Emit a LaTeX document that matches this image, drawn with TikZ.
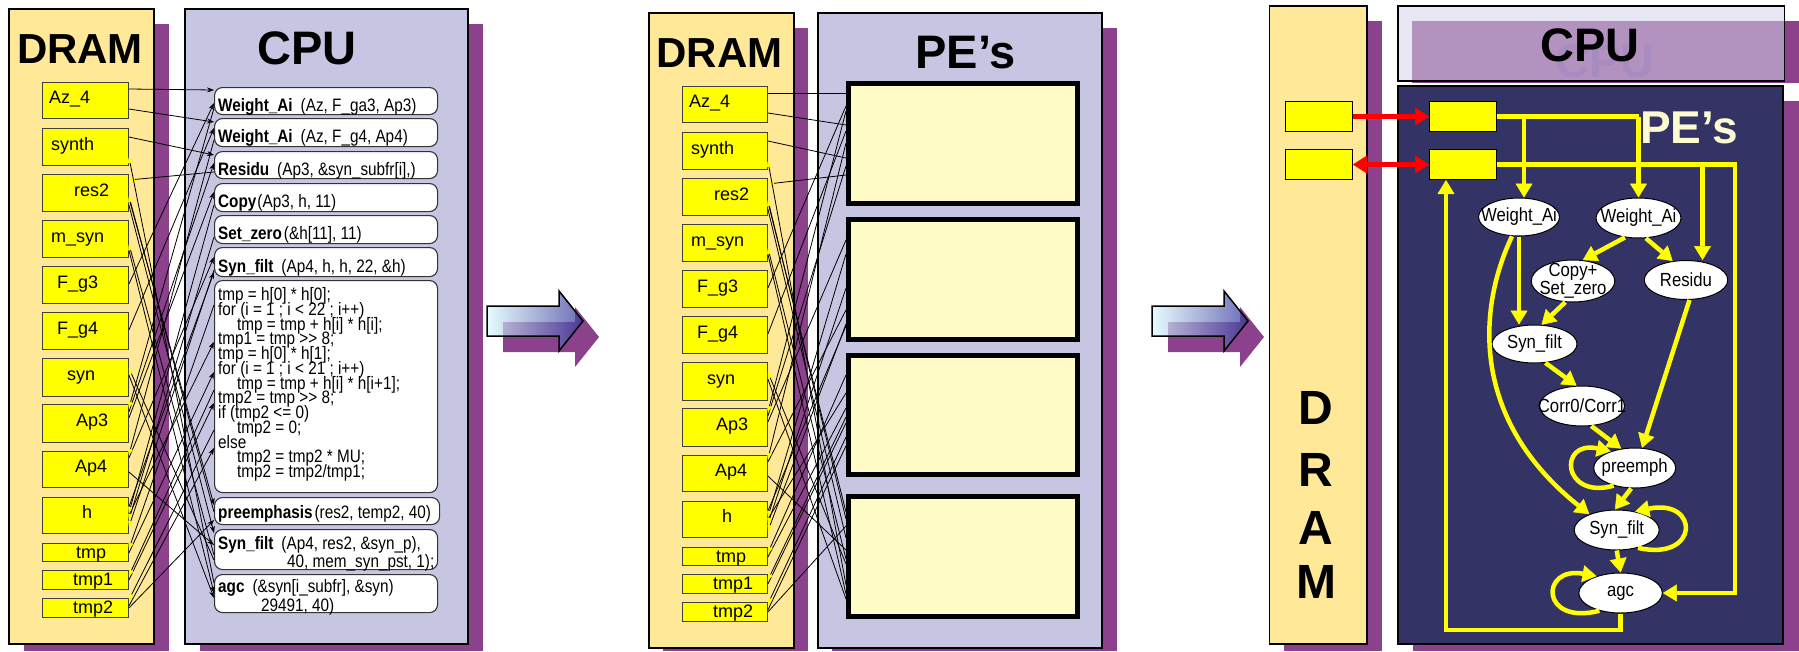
\documentclass[tikz,border=0pt]{standalone}
\usepackage{fontspec}
\setmainfont{Liberation Sans}
\newfontfamily\narrowsans[FakeStretch=0.85]{Liberation Sans}
\newfontfamily\ellsans[FakeStretch=0.88]{Liberation Sans}
\usetikzlibrary{arrows.meta,shapes.geometric}

\definecolor{dramfill}{HTML}{FFE897}
\definecolor{cpufill}{HTML}{C6C6E2}
\definecolor{dropshade}{HTML}{8B418B}
\definecolor{cellyellow}{HTML}{FFFF00}
\definecolor{pefill}{HTML}{FFFCC8}
\definecolor{penavy}{HTML}{333366}
\definecolor{creamtext}{HTML}{FFFBD0}
\definecolor{cpulight}{HTML}{D5D5EA}
\definecolor{ghostcpu}{HTML}{A88BC0}
\definecolor{arrowlight}{HTML}{DDFCFF}
\definecolor{arrowdark}{HTML}{35359A}

\tikzset{
  panel/.style={draw=black, line width=1.6pt},
  dropbox/.style={fill=dropshade},
  cell/.style={draw=black!75, fill=cellyellow, line width=0.9pt, inner sep=0pt,
    minimum width=86pt, anchor=north west},
  celltext/.style={inner sep=0pt, anchor=base west, font=\fontsize{18}{18}\selectfont},
  callbox/.style={draw=black!80, fill=white, line width=1.1pt, rounded corners=8pt,
    inner sep=0pt, anchor=north west},
  calltext/.style={inner sep=0pt, anchor=base west, font=\narrowsans\fontsize{18}{18}\selectfont},
  pebox/.style={draw=black, fill=pefill, line width=5pt, inner sep=0pt, minimum width=229pt},
  heading/.style={inner sep=0pt, anchor=base, font=\bfseries\fontsize{42}{42}\selectfont},
  bighead/.style={inner sep=0pt, anchor=base, font=\bfseries\fontsize{47}{47}\selectfont},
  fw/.style={line width=0.8pt, -{Stealth[length=7pt,width=5pt,line width=0.4pt]}},
  bw/.style={line width=0.8pt, -{Triangle[length=6pt,width=5pt,line width=0.4pt,color=cellyellow]}},
  plainlink/.style={line width=0.8pt},
  yl/.style={draw=cellyellow, line width=4.5pt},
  yarrow/.style={yl, -{Triangle[length=14pt,width=17pt,line width=0.5pt]}},
  redlink/.style={draw=red, line width=5pt},
  ell/.style={ellipse, draw=black, fill=white, line width=1pt, inner sep=0pt},
  elltext/.style={inner sep=0pt, align=center, font=\ellsans\fontsize{19}{15}\selectfont},
  smallcell/.style={draw=black, fill=cellyellow, line width=1pt, anchor=north west,
    minimum width=67pt, minimum height=30pt, inner sep=0pt},
  tallletter/.style={inner sep=0pt, anchor=base, font=\bfseries\fontsize{48}{48}\selectfont},
}

\newcommand\codeline[3]{\node[calltext] (k#1) at ({218+#2},{300.5+14.75*#1}) {#3};}

\begin{document}
\begin{tikzpicture}[x=1pt,y=-1pt]
\useasboundingbox (0,0) rectangle (1799,651);
\fill[white] (0,0) rectangle (1799,651);

% ---------------- left: DRAM and CPU ----------------
\fill[dropbox] (24,24) rectangle (169,651);
\fill[dropbox] (200,24) rectangle (483,651);
\node[panel, fill=dramfill, anchor=north west, minimum width=145pt, minimum height=635pt, inner sep=0pt] (ldram) at (8,8) {};
\node[panel, fill=cpufill, anchor=north west, minimum width=283pt, minimum height=635pt, inner sep=0pt] (lcpu) at (184,8) {};
\node[heading] (ldramt) at (80,63) {DRAM};
\node[bighead] (lcput) at (307,64) {CPU};

% DRAM cells
\foreach \t/\h/\lab/\off/\bl [count=\i] in {82/36/Az\_4/7/21.5, 128/37/synth/9/22, 174/37/res2/32/22,
    220/37/m\_syn/9/22, 266/37/F\_g3/15/22, 312/37/F\_g4/15/22, 358/38/syn/25/22, 404/38/Ap3/34/22,
    451/36/Ap4/33/21.5, 497/36/h/40/21.5, 543/18/tmp/34/15.5, 570/19/tmp1/31/15.5, 598/19/tmp2/31/15.5} {
  \node[cell, minimum height=\h pt] (ld\i) at (42,\t) {};
  \node[celltext] (ldl\i) at ({42+\off},{\t+\bl}) {\lab};
}

% CPU call boxes
\foreach \t/\h/\w [count=\i] in {87/27/223, 118/28/223, 151/27/223, 183/28/223, 215/28/223,
    247/29/223, 280/212/223, 497/27/225, 529/40/223, 574/38/223} {
  \node[callbox, minimum width=\w pt, minimum height=\h pt] (c\i) at (214,\t) {};
}
\node[calltext] (ct1) at (218,111) {\textbf{Weight\_Ai}\hspace{8pt}(Az, F\_ga3, Ap3)};
\node[calltext] (ct2) at (218,142) {\textbf{Weight\_Ai}\hspace{8pt}(Az, F\_g4, Ap4)};
\node[calltext] (ct3) at (218,175) {\textbf{Residu}\hspace{8pt}(Ap3, \&syn\_subfr[i],)};
\node[calltext] (ct4) at (218,207) {\textbf{Copy}\hspace{1pt}(Ap3, h, 11)};
\node[calltext] (ct5) at (218,239) {\textbf{Set\_zero}\hspace{2pt}(\&h[11], 11)};
\node[calltext] (ct6) at (218,272) {\textbf{Syn\_filt}\hspace{8pt}(Ap4, h, h, 22, \&h)};
\codeline{0}{0}{tmp = h[0] * h[0];}
\codeline{1}{0}{for (i = 1 ; i < 22 ; i++)}
\codeline{2}{19}{tmp = tmp + h[i] * h[i];}
\codeline{3}{0}{tmp1 = tmp >> 8;}
\codeline{4}{0}{tmp = h[0] * h[1];}
\codeline{5}{0}{for (i = 1 ; i < 21 ; i++)}
\codeline{6}{19}{tmp = tmp + h[i] * h[i+1];}
\codeline{7}{0}{tmp2 = tmp >> 8;}
\codeline{8}{0}{if (tmp2 <= 0)}
\codeline{9}{19}{tmp2 = 0;}
\codeline{10}{0}{else}
\codeline{11}{19}{tmp2 = tmp2 * MU;}
\codeline{12}{19}{tmp2 = tmp2/tmp1;}
\node[calltext] (ct8) at (218,518) {\textbf{preemphasis}\hspace{2pt}(res2, temp2, 40)};
\node[calltext] (ct9) at (218,549) {\textbf{Syn\_filt}\hspace{8pt}(Ap4, res2, \&syn\_p),};
\node[calltext] (ct9b) at (287,567) {40, mem\_syn\_pst, 1);};
\node[calltext] (ct10) at (218,592) {\textbf{agc}\hspace{8pt}(\&syn[i\_subfr], \&syn)};
\node[calltext] (ct10b) at (261,611) {29491, 40)};

% data flow DRAM -> CPU
\foreach \s/\sy/\d/\dy in {1/89/1/90, 1/109/2/122, 2/137/3/155, 5/284/1/103, 6/330/2/128,
    8/412/3/163, 8/418/4/192, 9/458/6/257, 9/472/9/545, 10/507/6/272, 10/515/7/342,
    11/553/7/372, 12/580/7/403, 13/606/7/448, 13/608/8/520, 3/198/8/505, 3/205/9/533,
    7/375/10/598, 4/250/10/593} {
  \draw[fw] (ld\s.east |- 0,\sy) -- (c\d.west |- 0,\dy);
}
% results CPU -> DRAM
\foreach \d/\dy/\s/\sy in {3/172/3/180, 10/583/2/157, 8/512/3/196, 9/555/4/244, 9/560/7/368,
    1/108/8/408, 2/140/9/455, 4/205/10/513, 5/237/10/520, 6/270/10/527, 7/305/11/549,
    7/390/12/576, 7/430/13/600} {
  \draw[bw] (c\d.west |- 0,\dy) -- (ld\s.east |- 0,\sy);
}

% ---------------- transition arrows ----------------
\foreach \ax in {487, 1152} {
  \fill[dropbox] ({\ax+16},322) -- ++(72,0) -- ++(0,-15) -- ++(24,30) -- ++(-24,30)
    -- ++(0,-15) -- ++(-72,0) -- cycle;
  \draw[line width=1.5pt, left color=arrowlight, right color=arrowdark, fill opacity=0.72]
    (\ax,306) -- ++(72,0) -- ++(0,-15) -- ++(24,30) -- ++(-24,30) -- ++(0,-15) -- ++(-72,0) -- cycle;
}

% ---------------- middle: DRAM and PE's ----------------
\fill[dropbox] (663,28) rectangle (808,651);
\fill[dropbox] (832,28) rectangle (1117,651);
\node[panel, fill=dramfill, anchor=north west, minimum width=145pt, minimum height=635pt, inner sep=0pt] (mdram) at (648,12) {};
\node[panel, fill=cpufill, anchor=north west, minimum width=284pt, minimum height=635pt, inner sep=0pt] (mpe) at (817,12) {};
\node[heading] (mdramt) at (719.5,67) {DRAM};
\node[bighead] (mpet) at (965.5,68) {PE’s};

\begin{scope}[shift={(640,4)}]
\foreach \t/\h/\lab/\off/\bl [count=\i] in {82/36/Az\_4/7/21.5, 128/37/synth/9/22, 174/37/res2/32/22,
    220/37/m\_syn/9/22, 266/37/F\_g3/15/22, 312/37/F\_g4/15/22, 358/38/syn/25/22, 404/38/Ap3/34/22,
    451/36/Ap4/33/21.5, 497/36/h/40/21.5, 543/18/tmp/34/15.5, 570/19/tmp1/31/15.5, 598/19/tmp2/31/15.5} {
  \node[cell, minimum width=85pt, minimum height=\h pt] (md\i) at (42,\t) {};
  \node[celltext] (mdl\i) at ({42+\off},{\t+\bl}) {\lab};
}
\end{scope}

\node[pebox, minimum height=120pt] (p1) at (963,143.5) {};
\node[pebox, minimum height=120pt] (p2) at (963,279.5) {};
\node[pebox, minimum height=119pt] (p3) at (963,415) {};
\node[pebox, minimum height=120pt] (p4) at (963,556.5) {};

\foreach \s/\sy/\d/\dy in {1/93/1/93, 1/113/1/125, 2/141/1/158, 5/288/1/106, 6/334/1/131,
    8/416/1/166, 8/422/2/240, 9/462/2/310, 9/476/4/550, 10/511/2/326, 10/519/3/393,
    11/557/3/408, 12/584/3/423, 13/610/3/446, 13/612/4/526, 3/202/4/512, 3/209/4/538,
    7/379/4/599, 4/254/4/594} {
  \draw[plainlink] (md\s.east |- 0,\sy) -- (p\d.west |- 0,\dy);
}
\foreach \d/\dy/\s/\sy in {1/175/3/184, 4/585/2/161, 4/519/3/200, 4/559/4/248, 4/564/7/372,
    1/111/8/412, 1/143/9/459, 2/254/10/517, 2/288/10/524, 2/324/10/531, 3/375/11/553,
    3/417/12/580, 3/437/13/604} {
  \draw[bw] (p\d.west |- 0,\dy) -- (md\s.east |- 0,\sy);
}

% ---------------- right: DRAM, CPU and PE's ----------------
\fill[dropbox] (1284,21) rectangle (1382,651);
\node[panel, fill=dramfill, anchor=north west, minimum width=97.5pt, minimum height=638pt, inner sep=0pt] (rdram) at (1268.5,5) {};
\node[tallletter] (rd1) at (1316,424) {D};
\node[tallletter] (rd2) at (1316,486) {R};
\node[tallletter] (rd3) at (1316,544) {A};
\node[tallletter] (rd4) at (1316,598) {M};

\fill[dropbox] (1412,21) rectangle (1799,83);
\fill[cpulight, fill opacity=0.55] (1397,5) rectangle (1783.5,80);
\node[draw=black, line width=1.6pt, anchor=north west, minimum width=386.5pt, minimum height=75pt, inner sep=0pt] (rcpu) at (1397,5) {};
\node[inner sep=0pt, anchor=base, font=\bfseries\fontsize{47}{47}\selectfont] (rcput) at (1590,61)
  {\rlap{\hspace{15pt}\raisebox{-16pt}[0pt][0pt]{\textcolor{ghostcpu}{CPU}}}CPU};

\fill[dropbox] (1413,101) rectangle (1799,651);
\node[draw=black, fill=penavy, line width=1.6pt, anchor=north west, minimum width=385pt, minimum height=558pt, inner sep=0pt] (rpe) at (1397,85) {};
\node[inner sep=0pt, anchor=base west, text=creamtext, font=\bfseries\fontsize{46}{46}\selectfont] (rpet) at (1640,143) {PE’s};

\node[smallcell] (r1) at (1285,101) {};
\node[smallcell] (r2) at (1285,149) {};
\node[smallcell] (r3) at (1429,101) {};
\node[smallcell] (r4) at (1429,149) {};

\draw[redlink, -{Triangle[length=14pt,width=18pt,line width=0.5pt]}] (r1.east) -- (r3.west);
\draw[redlink, {Triangle[length=14pt,width=18pt,line width=0.5pt]}-{Triangle[length=14pt,width=18pt,line width=0.5pt]}] (r2.east) -- (r4.west);

% task graph
\node[ell, minimum width=81pt, minimum height=38pt] (e1) at (1519,217) {};
\node[ell, minimum width=85pt, minimum height=40pt] (e2) at (1638.5,218) {};
\node[ell, minimum width=83.5pt, minimum height=42pt] (e3) at (1573,281) {};
\node[ell, minimum width=83.5pt, minimum height=39pt] (e4) at (1686,280) {};
\node[ell, minimum width=85pt, minimum height=38pt] (e5) at (1534.5,344) {};
\node[ell, minimum width=85pt, minimum height=40pt] (e6) at (1582,406) {};
\node[ell, minimum width=82pt, minimum height=40pt] (e7) at (1634.7,468) {};
\node[ell, minimum width=85pt, minimum height=40pt] (e8) at (1616.7,530) {};
\node[ell, minimum width=83.5pt, minimum height=40pt] (e9) at (1620.6,593) {};
\node[elltext] (et1) at (e1.center) {Weight\_Ai};
\node[elltext] (et2) at (e2.center) {Weight\_Ai};
\node[elltext] (et3) at (e3.center) {Copy+\\Set\_zero};
\node[elltext] (et4) at (e4.center) {Residu};
\node[elltext] (et5) at (e5.center) {Syn\_filt};
\node[elltext] (et6) at (e6.center) {Corr0/Corr1};
\node[elltext] (et7) at (e7.center) {preemph};
\node[elltext] (et8) at (e8.center) {Syn\_filt};
\node[elltext] (et9) at (e9.center) {agc};

\coordinate (busA) at (1638.5,0);
\coordinate (busB) at (1735,0);
\coordinate (busC) at (1702.5,0);
\coordinate (busD) at (1446,630);
\coordinate (busE) at (1524,0);

\draw[yl] (r3.east) -- (r3.east -| busA);
\draw[yarrow] (r3.east -| busE) -- (e1.north -| busE);
\draw[yarrow] (r3.east -| busA) -- (e2.north);
\draw[yarrow] (r4.east) -- (r4.east -| busB) -- (busB |- e9.east) -- (e9.east);
\draw[yarrow] (r4.east -| busC) -- (e4.north -| busC);
\draw[yarrow] (e9.south) -- (e9.south |- busD) -- (busD) -- (r4.south -| busD);

\draw[yarrow] (e1.south) -- (e1.south |- e5.north);
\draw[yarrow] (e1.250) .. controls (1477,310) and (1471,420) .. (e8.150);
\draw[yarrow] (e2.235) -- (e3.65);
\draw[yarrow] (e2.290) -- (e4.125);
\draw[yarrow] (e3.250) -- (e5.70);
\draw[yarrow] (e4.280) -- (e7.70);
\draw[yarrow] (e5.300) -- (e6.105);
\draw[yarrow] (e6.295) -- (e7.125);
\draw[yarrow] (e7.220) .. controls (1562,500) and (1558,440) .. (e7.145);
\draw[yarrow] (e7.260) -- (e8.95);
\draw[yarrow] (e8.320) .. controls (1700,562) and (1700,498) .. (e8.45);
\draw[yarrow] (e8.south) -- (e9.north);
\draw[yarrow] (e9.220) .. controls (1540,626) and (1540,566) .. (e9.145);
\end{tikzpicture}
\end{document}
